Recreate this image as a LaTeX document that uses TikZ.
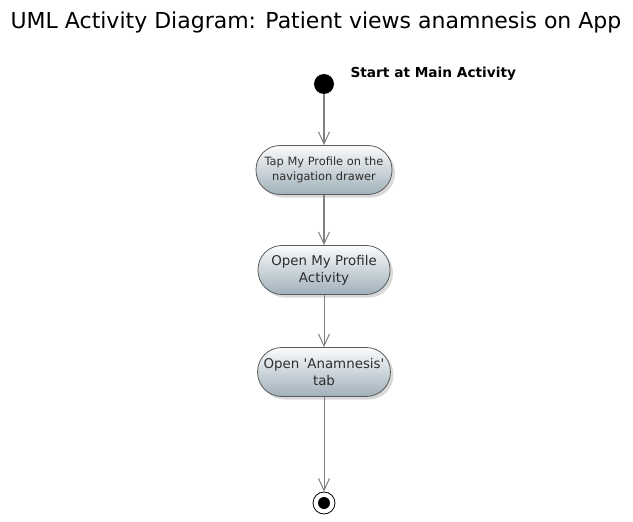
\documentclass[tikz,border=0pt]{standalone}
\usepackage{fontspec}
\setmainfont{DejaVu Sans}
\usepackage{xcolor}
\usetikzlibrary{arrows.meta,positioning,shadows}
\definecolor{uml_border}{RGB}{90,90,90}
\definecolor{uml_top}{RGB}{250,251,252}
\definecolor{uml_bot}{RGB}{160,176,186}
\definecolor{uml_arrow}{RGB}{128,128,128}
\definecolor{uml_text}{RGB}{45,45,45}

\begin{document}
\begin{tikzpicture}[x=1pt, y=-1pt,
      act/.style={draw=uml_border, line width=0.8pt, rounded corners=24pt,
                  top color=uml_top, bottom color=uml_bot,
                  drop shadow={shadow xshift=3pt, shadow yshift=-3pt, opacity=0.3},
                  minimum height=49pt, align=center, text=uml_text,
                  inner xsep=6pt},
      flow/.style={-{Straight Barb[length=12pt, width=11pt, line width=1pt]}, uml_arrow},
      bigflow/.style={flow, line width=2pt},
      thinflow/.style={flow, line width=0.8pt},
    ]
    \useasboundingbox (0,0) rectangle (633,522);

    % title
    \node (title) at (316,22) {\fontsize{22}{26}\selectfont UML Activity Diagram: Patient views anamnesis on App};

    % start / end
    \node[circle, fill=black, inner sep=0pt, minimum size=20pt] (start) at (324,84) {};
    \node[anchor=west, font=\bfseries\fontsize{13.7}{16}\selectfont] (startlbl) at (347,74) {Start at Main Activity};

    % activities
    \node[act, minimum width=136pt, font=\fontsize{11.4}{15}\selectfont] (tap) at (324,170)
        {Tap My Profile on the\\navigation drawer};
    \node[act, minimum width=132pt, font=\fontsize{13.4}{17}\selectfont] (open) at (324,270)
        {Open My Profile\\Activity};
    \node[act, minimum width=127pt, font=\fontsize{13.4}{17}\selectfont] (tab) at (324,372)
        {Open \textquotesingle Anamnesis\textquotesingle\\tab};

    \node[circle, draw=black, line width=0.8pt, fill=white, inner sep=0pt, minimum size=22pt] (stop) at (324,503) {};
    \node[circle, fill=black, inner sep=0pt, minimum size=12pt] (stopdot) at (stop) {};

    \draw[bigflow] (start) -- (tap);
    \draw[bigflow] (tap) -- (open);
    \draw[thinflow] (open) -- (tab);
    \draw[thinflow] (tab) -- (stop);
  \end{tikzpicture}
\end{document}
